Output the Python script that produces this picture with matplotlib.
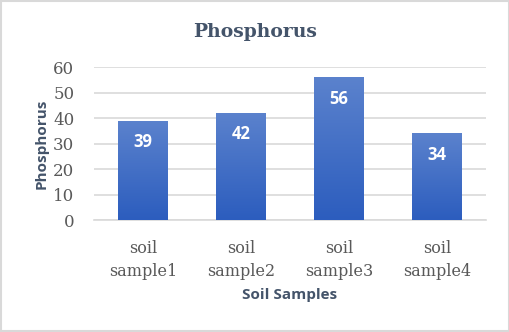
import numpy as np
import matplotlib
matplotlib.use("Agg")
import matplotlib.pyplot as plt
from matplotlib.patches import Rectangle
from matplotlib.colors import LinearSegmentedColormap

# chart data
categories = ['soil\nsample1', 'soil\nsample2', 'soil\nsample3', 'soil\nsample4']
phosphorus = [39, 42, 56, 34]
yticks = [0, 10, 20, 30, 40, 50, 60]

fig = plt.figure(figsize=(5.10, 3.32), dpi=100)
ax = fig.add_axes([0.184, 0.337, 0.769, 0.461])

x = np.arange(len(categories))
bars = ax.bar(x, phosphorus, width=0.5, color='none', edgecolor='none', zorder=3)

# vertical gradient fill for each bar
cmap = LinearSegmentedColormap.from_list('blu', ['#2C5DBE', '#5B82CD'])
grad = np.linspace(0, 1, 256).reshape(-1, 1)
for b in bars:
    bx, by = b.get_x(), b.get_y()
    w, h = b.get_width(), b.get_height()
    im = ax.imshow(grad, cmap=cmap, origin='lower', aspect='auto',
                   extent=[bx, bx + w, by, by + h], zorder=3)
    im.set_clip_path(b)

ax.set_xlim(-0.5, len(categories) - 0.5)
ax.set_ylim(0, 60)
ax.set_yticks(yticks)
ax.set_xticks(x)
ax.set_xticklabels(categories, family='DejaVu Serif', fontsize=11.5, color='#595959',
                   linespacing=1.5)
for lbl in ax.get_yticklabels():
    lbl.set_family('DejaVu Serif')
    lbl.set_fontsize(12)
    lbl.set_color('#595959')

ax.grid(axis='y', color='#D9D9D9', linewidth=1.2, zorder=0)
ax.tick_params(length=0, pad=14)
ax.tick_params(axis='x', pad=14)
for s in ['top', 'right', 'left']:
    ax.spines[s].set_visible(False)
ax.spines['bottom'].set_color('#D9D9D9')
ax.spines['bottom'].set_linewidth(1.2)

# data labels inside bars
for xi, v in zip(x, phosphorus):
    ax.text(xi, v - 8.4, str(v), ha='center', va='center', color='white',
            fontsize=12, fontweight='bold', family='Open Sans', zorder=4)

ax.set_ylabel('Phosphorus', fontsize=11, fontweight='bold', family='Open Sans',
              color='#44546A', labelpad=3)
ax.set_xlabel('Soil Samples', fontsize=11, fontweight='bold', family='Open Sans',
              color='#44546A', labelpad=6)

fig.text(0.5, 0.905, 'Phosphorus', ha='center', va='center', fontsize=13.5,
         fontweight='bold', family='DejaVu Serif', color='#44546A')

# light border around the chart area
fig.patches.append(Rectangle((0.002, 0.003), 0.996, 0.994, transform=fig.transFigure,
                             fill=False, edgecolor='#D9D9D9', linewidth=1.5))

fig.savefig('out.png', dpi=100)
